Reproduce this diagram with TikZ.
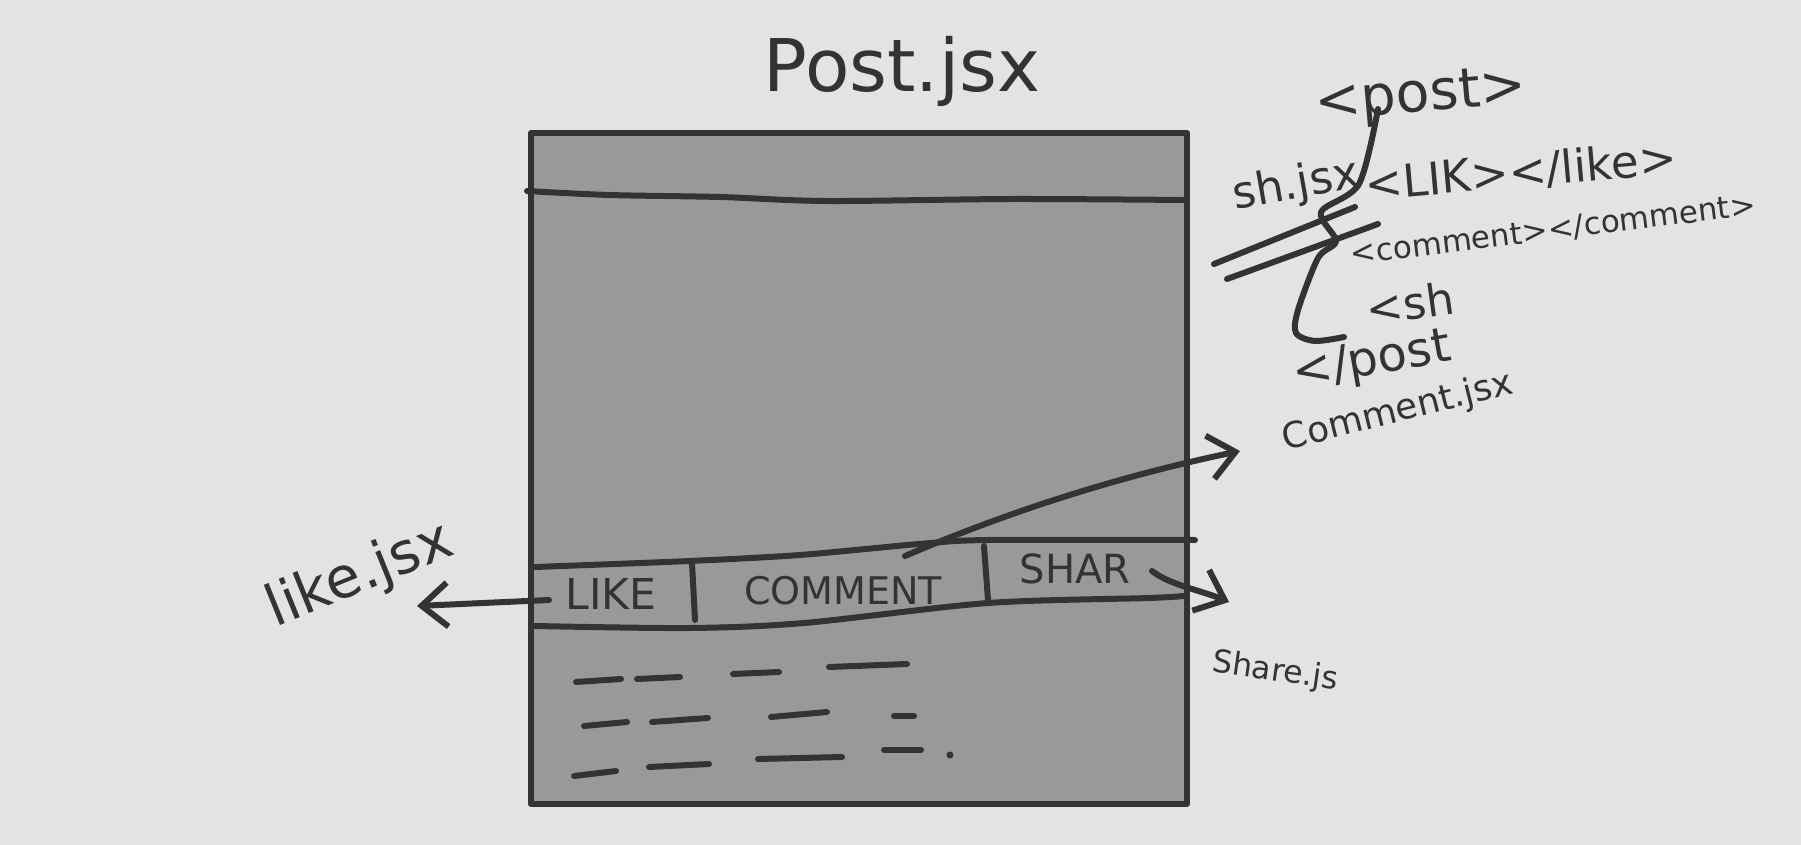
\documentclass[tikz,border=0pt]{standalone}
\usepackage{fontspec}
\setmainfont{DejaVu Sans}
\usetikzlibrary{arrows.meta}
\definecolor{bg}{RGB}{227,227,227}
\definecolor{boxfill}{RGB}{153,153,153}
\definecolor{ink}{RGB}{51,51,51}
\newcommand\handtext[2]{\resizebox{#1pt}{!}{#2}}
\begin{document}
\begin{tikzpicture}[x=1pt,y=-1pt,
  inkline/.style={draw=ink,line width=6pt,line cap=round,line join=round},
  hand/.style={text=ink,inner sep=0pt},
  barb/.style={-{Straight Barb[length=26pt,width=44pt]}}]
\fill[bg] (0,0) rectangle (1801,845);
\useasboundingbox (0,0) rectangle (1801,845);

% main frame
\draw[inkline,fill=boxfill] (531,133) rectangle (1187,804);
\draw[inkline] plot[smooth] coordinates {(527,191) (609,195) (720,197) (827,201) (1011,199) (1183,200)};

% action bar
\draw[inkline] plot[smooth] coordinates {(535,567) (689,561) (800,555) (919,544) (988,540) (1195,540)};
\draw[inkline] plot[smooth] coordinates {(535,626) (689,628) (804,623) (988,603) (1149,598) (1183,596)};
\draw[inkline] (692,563) -- (695,620);
\draw[inkline] (984,546) -- (988,600);
\node[hand] (like) at (611,594) {\handtext{91}{LIKE}};
\node[hand] (comment) at (843,591) {\handtext{198}{COMMENT}};
\node[hand] (share) at (1075,569) {\handtext{111}{SHAR}};

% content scribbles
\draw[inkline] (576,682) -- (621,679);
\draw[inkline] (637,679) -- (680,677);
\draw[inkline] (733,674) -- (779,672);
\draw[inkline] (829,667) -- (907,664);
\draw[inkline] (584,726) -- (627,722);
\draw[inkline] (652,722) -- (708,718);
\draw[inkline] (771,717) -- (827,712);
\draw[inkline] (894,716) -- (914,716);
\draw[inkline] (574,776) -- (616,771);
\draw[inkline] (649,767) -- (709,764);
\draw[inkline] (758,759) -- (842,757);
\draw[inkline] (884,750) -- (921,750);
\fill[ink] (950,755) circle (3.5pt);

% title
\node[hand] (title) at (902,71) {\handtext{276}{Post.jsx}};

% like.jsx
\node[hand,rotate=22] (likejsx) at (360,576) {\handtext{195}{like.jsx}};
\coordinate (likeend) at (417,606);
\draw[inkline,barb] (549,600) -- (likeend);

% comment.jsx arrow
\coordinate (cstart) at (905,556);
\coordinate (cend) at (1240,451);
\draw[inkline,barb] (cstart) .. controls (1010,511) and (1120,476) .. (cend);

% share arrow
\coordinate (sstart) at (1152,571);
\coordinate (send) at (1229,602);
\draw[inkline,barb] (sstart) .. controls (1170,585) and (1200,590) .. (send);
\node[hand,rotate=-8] (sharejsx) at (1275,672) {\handtext{126}{Share.js}};

% right code notes
\node[hand,rotate=5] (post) at (1421,98) {\handtext{212}{<post>}};
\node[hand,rotate=10] (scrib) at (1296,186) {\handtext{128}{sh.jsx}};
\draw[inkline] (1214,264) -- (1355,207);
\draw[inkline] (1227,279) -- (1378,224);
\node[hand,rotate=5] (likes) at (1521,172) {\handtext{312}{<LIK></like>}};
\node[hand,rotate=7] (comments) at (1553,230) {\handtext{408}{<comment></comment>}};
\draw[inkline] plot[smooth] coordinates {(1378,109) (1359,184) (1321,212) (1336,241) (1318,258) (1298,310) (1296,333) (1315,341) (1344,337)};
\node[hand,rotate=8] (sh) at (1410,303) {\handtext{88}{<sh}};
\node[hand,rotate=10] (endpost) at (1372,362) {\handtext{160}{</post}};
\node[hand,rotate=14] (commentjsx) at (1398,412) {\handtext{236}{Comment.jsx}};
\end{tikzpicture}
\end{document}
